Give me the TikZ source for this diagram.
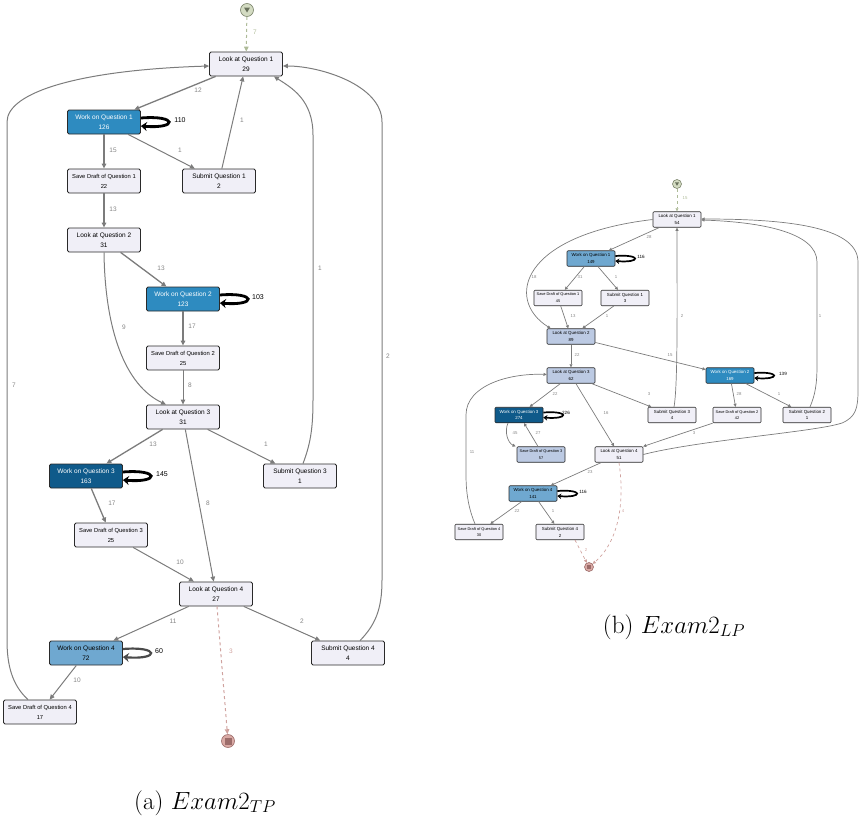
\documentclass[tikz,border=0pt]{standalone}
\usepackage{fontspec}
\usepackage{tikz}
\usetikzlibrary{arrows.meta}
\newfontfamily\nodesans{Liberation Sans}
\definecolor{ink}{HTML}{2A2A2A}
\definecolor{actbg}{HTML}{F0EFF7}
\definecolor{qpale}{HTML}{BCCAE3}
\definecolor{qmid}{HTML}{6FA8D0}
\definecolor{qblue}{HTML}{2E8BC0}
\definecolor{qdark}{HTML}{0F5A8A}
\definecolor{edgegray}{HTML}{7C7C7C}
\definecolor{lblgray}{HTML}{858585}
\definecolor{startgreen}{HTML}{AEBB98}
\definecolor{startbg}{HTML}{D3DBC2}
\definecolor{endpink}{HTML}{CFA29E}
\definecolor{endbg}{HTML}{D9A9A4}
\definecolor{endmark}{HTML}{9C6C6A}
\newcommand\actfont{\nodesans\fontsize{6.5}{10}\selectfont}
\newcommand\draftfont{\nodesans\fontsize{5.8}{10}\selectfont}
\newcommand\sactfont{\nodesans\fontsize{4.4}{6.8}\selectfont}
\newcommand\sdraftfont{\nodesans\fontsize{3.9}{6.8}\selectfont}
\tikzset{
  act/.style={draw=ink,fill=actbg,line width=0.8pt,rounded corners=1.5pt,
              minimum width=73pt,minimum height=24pt,inner sep=0pt,
              align=center,font=\actfont},
  draft/.style={act,font=\draftfont},
  sact/.style={draw=ink,fill=actbg,line width=0.6pt,rounded corners=1pt,
               minimum width=48pt,minimum height=15.5pt,inner sep=0pt,
               align=center,font=\sactfont},
  sdraft/.style={sact,font=\sdraftfont},
  flow/.style={-{Triangle[length=5pt,width=4.5pt]},draw=edgegray,
               line width=1pt},
  sflow/.style={-{Triangle[length=3.2pt,width=3pt]},draw=edgegray,
                line width=0.7pt},
  loopy/.style={-{Stealth[length=6pt,width=9pt]},line width=2.8pt,draw=black},
  sloopy/.style={-{Stealth[length=4pt,width=5.5pt]},line width=1.7pt,
                 draw=black},
  cnt/.style={font=\nodesans\fontsize{6.5}{7}\selectfont,text=lblgray,
              inner sep=0pt},
  scnt/.style={font=\nodesans\fontsize{4.3}{5}\selectfont,text=lblgray,
               inner sep=0pt},
  hotcnt/.style={cnt,text=black,font=\nodesans\fontsize{7}{8}\selectfont},
  shotcnt/.style={scnt,text=black,font=\nodesans\fontsize{4.6}{5}\selectfont},
  startcirc/.style={circle,draw=startgreen!70!black,fill=startbg,
                    line width=0.6pt,inner sep=0pt,minimum size=#1},
  endcirc/.style={circle,draw=endmark,fill=endbg,line width=0.6pt,
                  inner sep=0pt,minimum size=#1},
  enter/.style={flow,draw=startgreen,dashed},
  leave/.style={flow,draw=endpink,dashed},
  senter/.style={sflow,draw=startgreen,dashed},
  sleave/.style={sflow,draw=endpink,dashed}
}
\begin{document}
\begin{tikzpicture}[x=1pt,y=1pt]
  \useasboundingbox (0,0) rectangle (862,-822);

  % (a) Exam2_TP
  \node[startcirc=13pt] (start) at (247,-10) {};
  \fill[startgreen!60!black] (start.center) ++(-3pt,2.5pt) -- ++(6pt,0pt)
    -- ++(-3pt,-5pt) -- cycle;
  \node[act] (lq1) at (246,-64) {Look at Question 1\\29};
  \node[act,fill=qblue,text=white] (wq1) at (104,-122) {Work on Question 1\\126};
  \node[draft] (sd1) at (104,-181) {Save Draft of Question 1\\22};
  \node[act] (sq1) at (219,-181) {Submit Question 1\\2};
  \node[act] (lq2) at (104,-240) {Look at Question 2\\31};
  \node[act,fill=qblue,text=white] (wq2) at (183,-299) {Work on Question 2\\123};
  \node[draft] (sd2) at (183,-358) {Save Draft of Question 2\\25};
  \node[act] (lq3) at (183,-417) {Look at Question 3\\31};
  \node[act,fill=qdark,text=white] (wq3) at (86,-476) {Work on Question 3\\163};
  \node[act] (sq3) at (300,-476) {Submit Question 3\\1};
  \node[draft] (sd3) at (111,-535) {Save Draft of Question 3\\25};
  \node[act] (lq4) at (216,-594) {Look at Question 4\\27};
  \node[act,fill=qmid] (wq4) at (86,-653) {Work on Question 4\\72};
  \node[act] (sq4) at (348,-653) {Submit Question 4\\4};
  \node[draft] (sd4) at (40,-712) {Save Draft of Question 4\\17};
  \node[endcirc=13pt] (end) at (228,-741) {};
  \fill[endmark] ([shift={(-3.5pt,-3.5pt)}]end.center)
    rectangle ([shift={(3.5pt,3.5pt)}]end.center);

  \draw[enter] (start) -- (lq1);
  \draw[flow,line width=1.3pt] (lq1) -- (wq1);
  \draw[flow,line width=1.3pt] (wq1) -- (sd1);
  \draw[flow] (wq1) -- (sq1);
  \draw[flow] (sq1) -- (lq1);
  \draw[flow,line width=1.3pt] (sd1) -- (lq2);
  \draw[flow,line width=1.3pt] (lq2) -- (wq2);
  \draw[flow] (lq2.south) .. controls (105,-330) and (125,-385)
    .. ([xshift=-17pt]lq3.north);
  \draw[flow,line width=1.3pt] (wq2) -- (sd2);
  \draw[flow] (sd2) -- (lq3);
  \draw[flow,line width=1.3pt] (lq3) -- (wq3);
  \draw[flow] (lq3) -- (sq3);
  \draw[flow] (lq3) -- (lq4);
  \draw[flow,line width=1.3pt] (wq3) -- (sd3);
  \draw[flow] (sd3) -- (lq4);
  \draw[flow] (lq4) -- (wq4);
  \draw[flow] (lq4) -- (sq4);
  \draw[leave] (lq4) -- (end);
  \draw[flow] (wq4) -- (sd4);
  \draw[flow] ([xshift=3pt]sq3.north) .. controls (310,-445) and (313,-430)
    .. (313,-400) -- (313,-135) .. controls (313,-100) and (292,-88)
    .. ([xshift=-9pt]lq1.south east);
  \draw[flow] ([xshift=12pt]sq4.north) .. controls (375,-625) and (382,-610)
    .. (382,-580) -- (382,-122) .. controls (382,-85) and (320,-66)
    .. ([yshift=-2pt]lq1.east);
  \draw[flow] ([xshift=-12pt]sd4.north) .. controls (12,-685) and (7,-665)
    .. (7,-640) -- (7,-122) .. controls (7,-92) and (80,-70)
    .. ([yshift=-2pt]lq1.west);

  \draw[loopy] ([yshift=4pt]wq1.east) .. controls +(37pt,3pt) and +(37pt,-3pt)
    .. ([yshift=-4pt]wq1.east);
  \draw[loopy] ([yshift=4pt]wq2.east) .. controls +(37pt,3pt) and +(37pt,-3pt)
    .. ([yshift=-4pt]wq2.east);
  \draw[loopy] ([yshift=4pt]wq3.east) .. controls +(37pt,3pt) and +(37pt,-3pt)
    .. ([yshift=-4pt]wq3.east);
  \draw[loopy,line width=2.2pt,draw=ink!85] ([yshift=4pt]wq4.east)
    .. controls +(37pt,3pt) and +(37pt,-3pt) .. ([yshift=-4pt]wq4.east);

  \node[cnt,text=startgreen] (ca0) at (255,-32) {7};
  \foreach \px/\py/\t [count=\i] in {198/90/12, 113/150/15, 180/150/1,
      242/120/1, 113/209/13, 161/268/13, 124/327/9, 192/326/17, 190/385/8,
      320/268/1, 388/356/2, 14/385/7, 153/444/13, 266/444/1, 112/503/17,
      208/503/8, 180/562/10, 173/621/11, 302/621/2, 77/680/10}
    \node[cnt] (ca\i) at (\px,-\py) {\t};
  \node[cnt,text=endpink] (ca21) at (231,-651) {3};
  \node[hotcnt] (la1) at (180,-120) {110};
  \node[hotcnt] (la2) at (258,-297) {103};
  \node[hotcnt] (la3) at (162,-474) {145};
  \node[hotcnt] (la4) at (159,-651) {60};

  \node[font=\fontsize{25}{30}\selectfont] (capa) at (205,-803)
    {(a) $Exam2_{TP}$};

  % (b) Exam2_LP
  \node[startcirc=9pt] (rstart) at (677,-184) {};
  \fill[startgreen!60!black] (rstart.center) ++(-2pt,1.6pt) -- ++(4pt,0pt)
    -- ++(-2pt,-3.4pt) -- cycle;
  \node[sact] (rlq1) at (677,-219.5) {Look at Question 1\\54};
  \node[sact,fill=qmid] (rwq1) at (591,-258.5) {Work on Question 1\\149};
  \node[sdraft] (rsd1) at (558,-298) {Save Draft of Question 1\\45};
  \node[sact] (rsq1) at (625,-298) {Submit Question 1\\3};
  \node[sact,fill=qpale] (rlq2) at (571,-336.5) {Look at Question 2\\89};
  \node[sact,fill=qpale] (rlq3) at (571,-375.5) {Look at Question 3\\62};
  \node[sact,fill=qblue,text=white] (rwq2) at (730,-375.5)
    {Work on Question 2\\169};
  \node[sact,fill=qdark,text=white] (rwq3) at (519,-415)
    {Work on Question 3\\274};
  \node[sact] (rsq3) at (672,-415) {Submit Question 3\\4};
  \node[sdraft] (rsd2) at (737,-415) {Save Draft of Question 2\\42};
  \node[sact] (rsq2) at (807,-415) {Submit Question 2\\1};
  \node[sdraft,fill=qpale] (rsd3) at (541,-454.5) {Save Draft of Question 3\\57};
  \node[sact] (rlq4) at (619,-454.5) {Look at Question 4\\51};
  \node[sact,fill=qmid] (rwq4) at (533,-493.5) {Work on Question 4\\141};
  \node[sdraft] (rsd4) at (479,-532) {Save Draft of Question 4\\30};
  \node[sact] (rsq4) at (560,-532) {Submit Question 4\\2};
  \node[endcirc=9pt] (rend) at (589,-567) {};
  \fill[endmark] ([shift={(-2.3pt,-2.3pt)}]rend.center)
    rectangle ([shift={(2.3pt,2.3pt)}]rend.center);

  \draw[senter] (rstart) -- (rlq1);
  \draw[sflow] (rlq1) -- (rwq1);
  \draw[sflow] (rwq1) -- (rsd1);
  \draw[sflow] (rwq1) -- (rsq1);
  \draw[sflow] (rlq1.west) .. controls (520,-235) and (505,-300)
    .. ([xshift=4pt]rlq2.north west);
  \draw[sflow] (rsd1) -- (rlq2);
  \draw[sflow] (rsq1) -- (rlq2);
  \draw[sflow] ([xshift=2pt]rsq3.north) .. controls (678,-385) and (677,-300)
    .. (rlq1.south);
  \draw[sflow] ([xshift=3pt]rsq2.north) .. controls (815,-395) and (817,-385)
    .. (817,-365) -- (817,-262) .. controls (817,-232) and (760,-222)
    .. ([yshift=-0.5pt]rlq1.east);
  \draw[sflow] (rlq4.east) .. controls (700,-440) and (815,-432)
    .. (842,-423) .. controls (856,-417) and (858,-408) .. (858,-390)
    -- (858,-262) .. controls (858,-225) and (780,-219)
    .. ([yshift=0.5pt]rlq1.east);
  \draw[sflow] (rlq2) -- (rlq3);
  \draw[sflow] (rlq2) -- (rwq2);
  \draw[sflow] (rlq3) -- (rwq3);
  \draw[sflow] (rlq3) -- (rsq3);
  \draw[sflow] (rlq3) -- (rlq4);
  \draw[sflow] (rwq2) -- (rsd2);
  \draw[sflow] (rwq2) -- (rsq2);
  \draw[sflow] (rsd2) -- (rlq4);
  \draw[sflow] ([xshift=-11pt]rwq3.south) .. controls (504,-432) and (508,-443)
    .. ([xshift=-1pt]rsd3.north west);
  \draw[sflow] ([xshift=-3pt]rsd3.north) -- ([xshift=5pt]rwq3.south);
  \draw[sflow] (rlq4) -- (rwq4);
  \draw[sflow] (rwq4) -- (rsd4);
  \draw[sflow] (rwq4) -- (rsq4);
  \draw[sflow] ([xshift=-4pt]rsd4.north) .. controls (470,-512) and (466,-497)
    .. (466,-475) -- (466,-415) .. controls (466,-385) and (510,-373)
    .. ([yshift=1pt]rlq3.west);
  \draw[sleave] ([xshift=15pt]rsq4.south) -- (rend);
  \draw[sleave] (rlq4.south) .. controls (626,-510) and (615,-545) .. (rend);

  \draw[sloopy] ([yshift=2.5pt]rwq1.east) .. controls +(26pt,2pt) and +(26pt,-2pt)
    .. ([yshift=-2.5pt]rwq1.east);
  \draw[sloopy] ([yshift=2.5pt]rwq2.east) .. controls +(26pt,2pt) and +(26pt,-2pt)
    .. ([yshift=-2.5pt]rwq2.east);
  \draw[sloopy] ([yshift=2.5pt]rwq3.east) .. controls +(26pt,2pt) and +(26pt,-2pt)
    .. ([yshift=-2.5pt]rwq3.east);
  \draw[sloopy] ([yshift=2.5pt]rwq4.east) .. controls +(26pt,2pt) and +(26pt,-2pt)
    .. ([yshift=-2.5pt]rwq4.east);

  \node[scnt,text=startgreen] (cb0) at (685,-198) {15};
  \foreach \px/\py/\t [count=\i] in {649/237/28, 534/277/18, 580/277/31,
      616/277/1, 573/316/13, 607/316/1, 682/316/2, 820/316/1, 577/355/22,
      670/355/15, 555/394/22, 649/394/3, 606/413/16, 739/394/28, 779/394/1,
      515/433/45, 538/433/27, 694/433/3, 472/452/11, 590/472/23, 517/511/22,
      553/511/1}
    \node[scnt] (cb\i) at (\px,-\py) {\t};
  \node[scnt,text=endpink] (cb23) at (586,-550) {2};
  \node[scnt,text=endpink] (cb24) at (623,-511) {4};
  \node[shotcnt] (lb1) at (641,-257) {116};
  \node[shotcnt] (lb2) at (783,-374) {139};
  \node[shotcnt] (lb3) at (566,-413) {226};
  \node[shotcnt] (lb4) at (583,-492) {116};

  \node[font=\fontsize{25}{30}\selectfont] (capb) at (674,-627)
    {(b) $Exam2_{LP}$};
\end{tikzpicture}
\end{document}
